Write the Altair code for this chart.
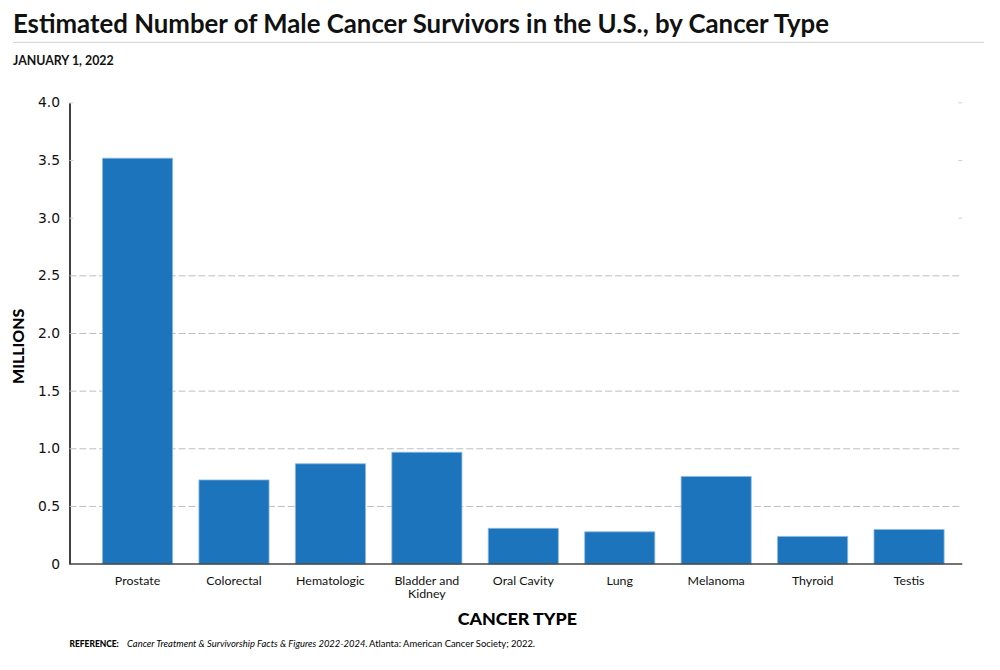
import altair as alt
import pandas as pd

categories = ["Prostate", "Colorectal", "Hematologic", "Bladder and Kidney",
              "Oral Cavity", "Lung", "Melanoma", "Thyroid", "Testis"]
values = [3.52, 0.73, 0.87, 0.97, 0.31, 0.28, 0.76, 0.24, 0.30]

y_ticks = [0, 0.5, 1.0, 1.5, 2.0, 2.5, 3.0, 3.5, 4.0]
grid_values = [0.5, 1.0, 1.5, 2.0, 2.5]
stub_values = [3.0, 3.5, 4.0]

title_text = "Estimated Number of Male Cancer Survivors in the U.S., by Cancer Type"
subtitle_text = "JANUARY 1, 2022"
ref_label = "REFERENCE:"
ref_italic = "Cancer Treatment & Survivorship Facts & Figures 2022-2024."
ref_plain = "Atlanta: American Cancer Society; 2022."

W, H = 900, 465
FONT = "Lato"

df = pd.DataFrame({"cat": categories, "val": values})
yscale = alt.Scale(domain=[0, 4], nice=False)

y_axis = alt.Axis(
    title="MILLIONS", values=y_ticks, grid=False, ticks=False,
    domainColor="#000", domainWidth=1.5,
    labelExpr="datum.value == 0 ? '0' : format(datum.value, '.1f')",
    labelFont="DejaVu Sans", labelFontSize=14, labelColor="#111", labelPadding=10,
    titleFont=FONT, titleFontSize=16, titleFontWeight=900, titleColor="#000",
    titleAngle=-90, titleX=-51, titleY=245, titleAlign="center", titleBaseline="middle",
)

def yenc(field):
    return alt.Y(field, scale=yscale, axis=y_axis, title="MILLIONS")

grid = alt.Chart(pd.DataFrame({"v": grid_values})).mark_rule(
    color="#bdbdbd", strokeWidth=1, strokeDash=[7, 3]
).encode(x=alt.value(0), x2=alt.value(W), y=yenc("v:Q"))

stubs_l = alt.Chart(pd.DataFrame({"v": stub_values})).mark_rule(
    color="#d0d0d0", strokeWidth=1
).encode(x=alt.value(0), x2=alt.value(4), y=yenc("v:Q"))
stubs_r = alt.Chart(pd.DataFrame({"v": stub_values})).mark_rule(
    color="#d0d0d0", strokeWidth=1
).encode(x=alt.value(W - 4), x2=alt.value(W), y=yenc("v:Q"))

bars = alt.Chart(df).mark_bar(color="#1c74bc", stroke="#8cb9e2", strokeWidth=0.8).encode(
    x=alt.X(
        "cat:N", sort=categories,
        scale=alt.Scale(range=[20, 895], paddingInner=0.273, paddingOuter=0.1365),
        axis=alt.Axis(
            title="CANCER TYPE", domain=False, ticks=False, labelAngle=0,
            labelFont=FONT, labelFontSize=12.5, labelColor="#111", labelPadding=11,
            labelLineHeight=13,
            labelExpr="datum.label == 'Bladder and Kidney' ? ['Bladder and', 'Kidney'] : datum.label",
            titleFont=FONT, titleFontSize=18, titleFontWeight=900, titleColor="#000",
            titleX=451, titleY=61, titleBaseline="alphabetic", titleAlign="center",
        ),
    ),
    y=yenc("val:Q"),
)

baseline = alt.Chart(pd.DataFrame({"v": [0]})).mark_rule(color="#444", strokeWidth=1.5).encode(
    x=alt.value(0), x2=alt.value(W), y=yenc("v:Q")
)

def txt(s, x, y, size, weight="normal", style="normal", color="#000"):
    return alt.Chart(pd.DataFrame({"t": [s]})).mark_text(
        align="left", baseline="alphabetic", font=FONT, fontSize=size,
        fontWeight=weight, fontStyle=style, color=color,
    ).encode(x=alt.value(x), y=alt.value(y), text="t:N")

sep = alt.Chart(pd.DataFrame({"v": [0]})).mark_rule(color="#d0d0d0", strokeWidth=1).encode(
    x=alt.value(-57), x2=alt.value(922), y=alt.value(-61)
)

chart = alt.layer(
    grid, stubs_l, stubs_r, bars, baseline, sep,
    txt(title_text, -57, -70, 26, "bold", color="#111"),
    txt(subtitle_text, -57, -38, 12.5, "bold", color="#111"),
    txt(ref_label, 0, 549, 8.5, 900),
    txt(ref_italic, 58, 549, 9.5, "normal", "italic"),
    txt(ref_plain, 302, 549, 9.5),
).properties(
    width=W, height=H,
    autosize=alt.AutoSizeParams(type="none"),
    padding={"left": 62, "top": 93, "right": 30, "bottom": 86},
).configure_view(stroke=None)

chart.save("out.html", embed_options={"renderer": "svg", "actions": False})
